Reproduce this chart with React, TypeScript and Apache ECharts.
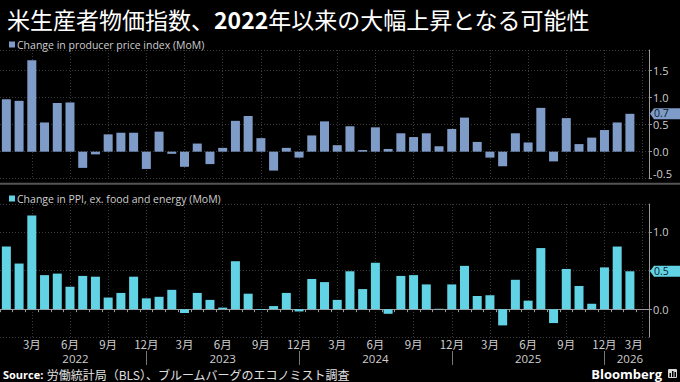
import React, { useEffect, useRef } from 'react';
import * as echarts from 'echarts';

const months = [
  '2022-01', '2022-02', '2022-03', '2022-04', '2022-05', '2022-06', '2022-07', '2022-08', '2022-09', '2022-10', '2022-11', '2022-12',
  '2023-01', '2023-02', '2023-03', '2023-04', '2023-05', '2023-06', '2023-07', '2023-08', '2023-09', '2023-10', '2023-11', '2023-12',
  '2024-01', '2024-02', '2024-03', '2024-04', '2024-05', '2024-06', '2024-07', '2024-08', '2024-09', '2024-10', '2024-11', '2024-12',
  '2025-01', '2025-02', '2025-03', '2025-04', '2025-05', '2025-06', '2025-07', '2025-08', '2025-09', '2025-10', '2025-11', '2025-12',
  '2026-01', '2026-02', '2026-03',
];

const ppiMoM = [
  0.97, 0.94, 1.69, 0.54, 0.90, 0.91, -0.30, -0.05, 0.32, 0.35, 0.35, -0.32,
  0.37, -0.04, -0.28, 0.15, -0.23, 0.07, 0.57, 0.66, 0.25, -0.35, 0.07, -0.11,
  0.30, 0.56, 0.12, 0.47, 0.03, 0.45, 0.05, 0.34, 0.27, 0.34, 0.10, 0.42,
  0.63, 0.18, -0.11, -0.27, 0.34, 0.17, 0.81, -0.18, 0.62, 0.14, 0.26, 0.40,
  0.54, 0.70, null,
];

const coreMoM = [
  0.81, 0.59, 1.21, 0.44, 0.46, 0.29, 0.43, 0.42, 0.15, 0.21, 0.42, 0.14,
  0.16, 0.25, -0.05, 0.21, 0.12, 0.02, 0.62, 0.20, -0.01, 0.04, 0.21, -0.03,
  0.39, 0.35, 0.12, 0.49, 0.26, 0.60, -0.06, 0.43, 0.44, 0.32, 0.005, 0.32,
  0.56, 0.17, 0.18, -0.21, 0.38, 0.11, 0.79, -0.18, 0.52, 0.30, 0.07, 0.54,
  0.81, 0.49, null,
];

const yearLabels: Record<string, string> = {
  '2022-06': '2022',
  '2023-06': '2023',
  '2024-06': '2024',
  '2025-06': '2025',
  '2026-02': '2026',
};

const ppiName = 'Change in producer price index (MoM)';
const coreName = 'Change in PPI, ex. food and energy (MoM)';
const titleText = '{n|米生産者物価指数、}{b|2022}{n|年以来の大幅上昇となる可能性}';
const sourceText = '{b|Source:} {n|労働統計局（BLS）、ブルームバーグのエコノミスト調査}';

const C1 = '#7f9cc8';
const C2 = '#62d3e5';
const GRID_LINE = { color: '#3a3a3a', type: [1, 2] as any, width: 1 };
const AXIS_COLOR = '#9a9a9a';
const LABEL_COLOR = '#cfcfcf';
const LATIN = '"Open Sans", "Noto Sans", sans-serif';
const CJK = '"Noto Sans CJK JP", "Noto Sans", sans-serif';

const isQuarter = (i: number) => i % 3 === 2;
const lastValue = (arr: (number | null)[]) => {
  for (let i = arr.length - 1; i >= 0; i--) if (arr[i] != null) return arr[i] as number;
  return 0;
};

export default function App() {
  const ref = useRef<HTMLDivElement>(null);
  useEffect(() => {
    const chart = echarts.init(ref.current!, null, { renderer: 'svg' });
    const coreLast = Number(lastValue(coreMoM).toFixed(1));
    const legendCommon = {
      icon: 'rect',
      itemWidth: 6,
      itemHeight: 6,
      itemGap: 0,
      left: 4,
      selectedMode: false,
      textStyle: { color: LABEL_COLOR, fontSize: 10.5, fontFamily: LATIN, padding: [0, 0, 0, -3] },
    };
    const option: any = {
      backgroundColor: '#000',
      animation: false,
      textStyle: { fontFamily: LATIN },
      title: {
        left: 2,
        top: 2,
        text: titleText,
        textStyle: {
          rich: {
            n: { fontSize: 23, color: '#fff', fontFamily: CJK, fontWeight: 'normal' },
            b: { fontSize: 23, color: '#fff', fontFamily: CJK, fontWeight: 'bold' },
          },
        },
      },
      legend: [
        { ...legendCommon, top: 34, data: [ppiName] },
        { ...legendCommon, top: 188, data: [coreName] },
      ],
      grid: [
        { left: -1, width: 650, top: 50, height: 128.7 },
        { left: -1, width: 650, top: 204, height: 133 },
      ],
      xAxis: [
        {
          gridIndex: 0,
          type: 'category',
          data: months,
          axisLine: { show: false },
          axisTick: { show: false },
          axisLabel: { show: false },
          splitLine: { show: true, interval: (i: number) => isQuarter(i), alignWithLabel: true, lineStyle: GRID_LINE },
        },
        {
          gridIndex: 1,
          type: 'category',
          data: months,
          axisLine: { show: true, lineStyle: { color: AXIS_COLOR } },
          axisTick: { show: true, interval: 0, length: 3, lineStyle: { color: AXIS_COLOR } },
          axisLabel: {
            interval: (i: number) => isQuarter(i),
            formatter: (v: string) => parseInt(v.slice(5), 10) + '月',
            color: LABEL_COLOR,
            fontSize: 11.5,
            fontFamily: CJK,
            margin: 1,
            lineHeight: 12,
            alignMaxLabel: 'right',
          },
          splitLine: { show: true, interval: (i: number) => isQuarter(i), alignWithLabel: true, lineStyle: GRID_LINE },
        },
        {
          gridIndex: 1,
          type: 'category',
          data: months,
          position: 'bottom',
          offset: 14,
          axisLine: { show: false },
          axisTick: {
            show: true,
            interval: (i: number) => i % 12 === 11,
            alignWithLabel: true,
            length: 14,
            lineStyle: { color: '#777' },
          },
          axisLabel: {
            interval: (i: number, v: string) => yearLabels[v] !== undefined,
            formatter: (v: string) => (v === '2022-06' ? '{s|' + yearLabels[v] + '}' : yearLabels[v] || ''),
            color: LABEL_COLOR,
            fontSize: 11.5,
            lineHeight: 12,
            margin: 1.5,
            rich: { s: { fontSize: 11.5, lineHeight: 12, color: LABEL_COLOR, padding: [0, 0, 0, 11] } },
          },
          splitLine: { show: false },
        },
      ],
      yAxis: [
        {
          gridIndex: 0,
          type: 'value',
          position: 'right',
          min: -0.5,
          max: 1.88,
          interval: 0.5,
          axisLine: { show: true, lineStyle: { color: AXIS_COLOR } },
          axisTick: { show: true, length: 3, lineStyle: { color: AXIS_COLOR } },
          axisLabel: {
            color: LABEL_COLOR,
            fontSize: 11,
            lineHeight: 11,
            margin: 4,
            formatter: (v: number) => v.toFixed(1),
            showMaxLabel: false,
            verticalAlignMinLabel: 'bottom',
          },
          splitLine: { show: true, lineStyle: GRID_LINE },
        },
        {
          gridIndex: 1,
          type: 'value',
          position: 'right',
          min: -0.36,
          max: 1.36,
          splitNumber: 3,
          axisLine: { show: true, lineStyle: { color: AXIS_COLOR } },
          axisTick: { show: true, length: 3, lineStyle: { color: AXIS_COLOR } },
          axisLabel: {
            color: LABEL_COLOR,
            fontSize: 11,
            lineHeight: 11,
            margin: 4,
            formatter: (v: number) => (Math.abs(v - coreLast) < 1e-6 ? '' : v.toFixed(1)),
            showMinLabel: false,
            showMaxLabel: false,
          },
          splitLine: { show: true, lineStyle: GRID_LINE },
        },
      ],
      series: [
        { name: ppiName, type: 'bar', xAxisIndex: 0, yAxisIndex: 0, data: ppiMoM, barWidth: 9, itemStyle: { color: C1 } },
        { name: coreName, type: 'bar', xAxisIndex: 1, yAxisIndex: 1, data: coreMoM, barWidth: 9, itemStyle: { color: C2 } },
      ],
    };
    chart.setOption(option);

    const xAt = (i: number) => chart.convertToPixel({ xAxisIndex: 0 }, i) as number;
    const band = xAt(1) - xAt(0);
    const axisX = xAt(months.length - 1) + band / 2;
    const badge = (yAxisIndex: number, value: number, color: string) => {
      const y = chart.convertToPixel({ yAxisIndex }, value) as number;
      return {
        type: 'group',
        z: 100,
        children: [
          {
            type: 'polygon',
            z: 100,
            shape: { points: [[axisX + 1, y], [axisX + 5, y - 5.5], [682, y - 5.5], [682, y + 5.5], [axisX + 5, y + 5.5]] },
            style: { fill: color },
          },
          {
            type: 'text',
            z: 101,
            x: axisX + 5,
            y: y - 0.5,
            style: { text: value.toFixed(1), fill: '#0c1828', font: '10.5px ' + LATIN, lineHeight: 10, verticalAlign: 'middle' },
          },
        ],
      };
    };
    const sepY = ((chart.convertToPixel({ yAxisIndex: 0 }, -0.5) as number) + 4);
    chart.setOption({
      graphic: [
        { type: 'rect', z: 50, shape: { x: 0, y: sepY, width: 680, height: 2 }, style: { fill: '#555' } },
        badge(0, lastValue(ppiMoM), C1),
        badge(1, lastValue(coreMoM), C2),
        {
          type: 'text',
          left: 3,
          top: 368,
          style: {
            text: sourceText,
            rich: {
              b: { fontSize: 11, fontWeight: 'bold', fill: '#fff', fontFamily: LATIN, lineHeight: 14 },
              n: { fontSize: 12, fill: '#e0e0e0', fontFamily: CJK, lineHeight: 14 },
            },
          },
        },
        {
          type: 'text',
          right: 18,
          top: 367.5,
          style: { text: 'Bloomberg', fill: '#fff', font: 'bold 13px ' + LATIN, lineHeight: 13 },
        },
        { type: 'rect', right: 3, top: 369, shape: { width: 9, height: 9, r: 1 }, style: { fill: '#d8d8d8' } },
        { type: 'rect', right: 9, top: 373, shape: { width: 1.5, height: 4 }, style: { fill: '#000' } },
        { type: 'rect', right: 6.5, top: 371, shape: { width: 1.5, height: 6 }, style: { fill: '#000' } },
        { type: 'rect', right: 4, top: 372, shape: { width: 1.5, height: 5 }, style: { fill: '#000' } },
      ],
    });
    return () => chart.dispose();
  }, []);
  return (
    <div
      ref={ref}
      style={{ position: 'fixed', left: 0, top: 0, width: 680, height: 382, background: '#000' }}
    />
  );
}
